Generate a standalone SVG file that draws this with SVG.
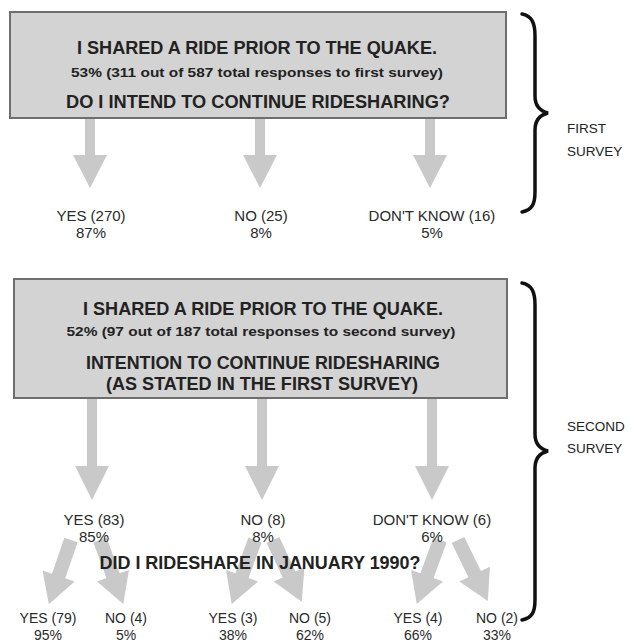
<svg xmlns="http://www.w3.org/2000/svg" width="634" height="642" viewBox="0 0 634 642">
<style>
.box{fill:#d3d3d3;stroke:#6e6e6e;stroke-width:2}
.arr{fill:#c9c9c9}
.t{font-family:"Liberation Sans",Arial,sans-serif;fill:#222;text-anchor:middle}
.hb{font-size:18px;font-weight:bold}
.sb{font-size:13.5px;font-weight:bold}
.lb{font-size:15px;fill:#2a2a2a}
.lbs{font-size:14px;fill:#2a2a2a}
.side{font-family:"Liberation Sans",Arial,sans-serif;fill:#222;font-size:13.5px}
.brace{fill:none;stroke:#111;stroke-width:3.5;stroke-linecap:round}
</style>
<defs>
<path id="darr" d="M-7,0 L7,0 L7,38 L17,38 L0,68 L-17,38 L-7,38 Z"/>
</defs>
<rect width="634" height="642" fill="#fff"/>

<g id="box1">
<rect class="box" x="10" y="12" width="496" height="106"/>
<text class="t hb" x="257" y="54" textLength="360" lengthAdjust="spacingAndGlyphs">I SHARED A RIDE PRIOR TO THE QUAKE.</text>
<text class="t sb" x="257" y="77" textLength="372" lengthAdjust="spacingAndGlyphs">53% (311 out of 587 total responses to first survey)</text>
<text class="t hb" x="258" y="108" textLength="384" lengthAdjust="spacingAndGlyphs">DO I INTEND TO CONTINUE RIDESHARING?</text>
</g>

<g id="connectors">
<polygon class="arr" points="85,119 95,119 95,155 107,155 90,188 73,155 85,155"/>
<polygon class="arr" points="255,119 265,119 265,155 277,155 260,188 243,155 255,155"/>
<polygon class="arr" points="425,119 435,119 435,155 447,155 430,188 413,155 425,155"/>
<polygon class="arr" points="87,399 97,399 97,466 109,466 92,500 75,466 87,466"/>
<polygon class="arr" points="257,399 267,399 267,466 279,466 262,500 245,466 257,466"/>
<polygon class="arr" points="427,399 437,399 437,466 449,466 432,500 415,466 427,466"/>
<use href="#darr" class="arr" transform="translate(71,540) rotate(19)"/>
<use href="#darr" class="arr" transform="translate(100,540) rotate(-20)"/>
<use href="#darr" class="arr" transform="translate(255,540) rotate(20)"/>
<use href="#darr" class="arr" transform="translate(273,540) rotate(-25)"/>
<use href="#darr" class="arr" transform="translate(440,540) rotate(20)"/>
<use href="#darr" class="arr" transform="translate(458,540) rotate(-26)"/>
</g>

<g id="n1-yes"><text class="t lb" x="91" y="221">YES (270)</text><text class="t lb" x="91" y="238">87%</text></g>
<g id="n1-no"><text class="t lb" x="261" y="221">NO (25)</text><text class="t lb" x="261" y="238">8%</text></g>
<g id="n1-dk"><text class="t lb" x="432" y="221">DON'T KNOW (16)</text><text class="t lb" x="432" y="238">5%</text></g>

<g id="box2">
<rect class="box" x="14" y="279" width="493" height="119"/>
<text class="t hb" x="263" y="315" textLength="360" lengthAdjust="spacingAndGlyphs">I SHARED A RIDE PRIOR TO THE QUAKE.</text>
<text class="t sb" x="261" y="336" textLength="389" lengthAdjust="spacingAndGlyphs">52% (97 out of 187 total responses to second survey)</text>
<text class="t hb" x="263" y="369" textLength="354" lengthAdjust="spacingAndGlyphs">INTENTION TO CONTINUE RIDESHARING</text>
<text class="t hb" x="262" y="390" textLength="312" lengthAdjust="spacingAndGlyphs">(AS STATED IN THE FIRST SURVEY)</text>
</g>

<g id="n2-yes"><text class="t lb" x="94" y="525">YES (83)</text><text class="t lb" x="94" y="542">85%</text></g>
<g id="n2-no"><text class="t lb" x="263" y="525">NO (8)</text><text class="t lb" x="263" y="542">8%</text></g>
<g id="n2-dk"><text class="t lb" x="432" y="525">DON'T KNOW (6)</text><text class="t lb" x="432" y="542">6%</text></g>

<g id="q3"><text class="t hb" x="260" y="569" textLength="321" lengthAdjust="spacingAndGlyphs">DID I RIDESHARE IN JANUARY 1990?</text></g>

<g id="n3-yes1"><text class="t lbs" x="48" y="623">YES (79)</text><text class="t lbs" x="48" y="640">95%</text></g>
<g id="n3-no1"><text class="t lbs" x="126" y="623">NO (4)</text><text class="t lbs" x="126" y="640">5%</text></g>
<g id="n3-yes2"><text class="t lbs" x="233" y="623">YES (3)</text><text class="t lbs" x="233" y="640">38%</text></g>
<g id="n3-no2"><text class="t lbs" x="310" y="623">NO (5)</text><text class="t lbs" x="310" y="640">62%</text></g>
<g id="n3-yes3"><text class="t lbs" x="418" y="623">YES (4)</text><text class="t lbs" x="418" y="640">66%</text></g>
<g id="n3-no3"><text class="t lbs" x="497" y="623">NO (2)</text><text class="t lbs" x="497" y="640">33%</text></g>

<g id="brace1">
<path class="brace" d="M522,14 C532,16 535,23 535,36 L535,96 C535,106 540,111 548,113 C540,115 535,120 535,130 L535,192 C535,204 532,210 522,212"/>
<text class="side" x="567" y="133">FIRST</text>
<text class="side" x="567" y="156">SURVEY</text>
</g>
<g id="brace2">
<path class="brace" d="M522,283 C532,285 535,292 535,305 L535,434 C535,444 540,449 548,451 C540,453 535,458 535,468 L535,600 C535,612 532,618 522,620"/>
<text class="side" x="567" y="431">SECOND</text>
<text class="side" x="567" y="453">SURVEY</text>
</g>
</svg>
